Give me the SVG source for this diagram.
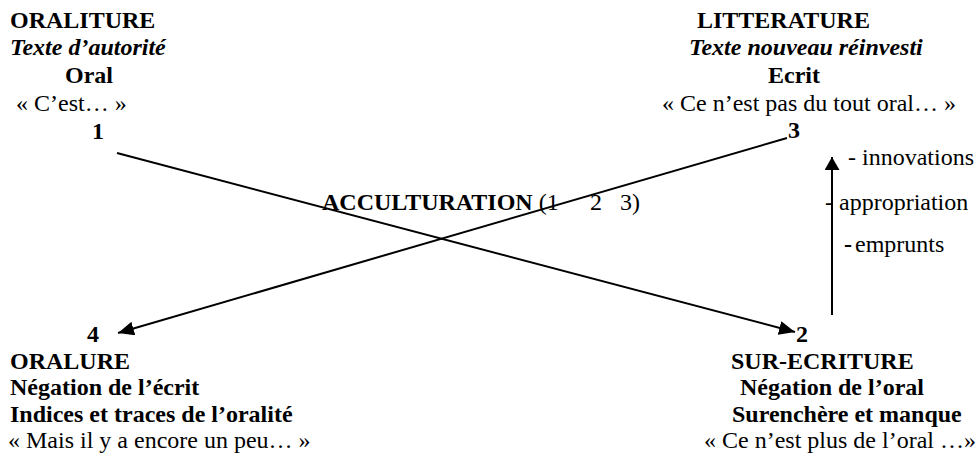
<svg xmlns="http://www.w3.org/2000/svg" width="977" height="457" viewBox="0 0 977 457">
<style>
text{font-family:"Liberation Serif","Times New Roman",serif;font-size:24px;fill:#000}
.b{font-weight:bold}
.bi{font-weight:bold;font-style:italic}
.ln{stroke:#000;stroke-width:2;fill:none}
</style>
<defs>
<marker id="ah" markerUnits="userSpaceOnUse" markerWidth="17" markerHeight="14" refX="16" refY="7" orient="auto">
<path d="M0,0 L16,7 L0,14 z" fill="#000"/>
</marker>
<marker id="ahv" markerUnits="userSpaceOnUse" markerWidth="14" markerHeight="16" refX="13" refY="7.5" orient="auto">
<path d="M0,0 L13,7.5 L0,15 z" fill="#000"/>
</marker>
</defs>
<rect width="977" height="457" fill="#fff"/>
<g id="connectors">
<path class="ln" d="M117,153 L795,332" marker-end="url(#ah)"/>
<path class="ln" d="M787,138 L118,333" marker-end="url(#ah)"/>
<path class="ln" d="M832,315 L832,157" marker-end="url(#ahv)"/>
</g>
<g id="node-oraliture">
<text class="b" x="10" y="28">ORALITURE</text>
<text class="bi" x="10" y="55">Texte d’autorité</text>
<text class="b" x="65" y="83">Oral</text>
<text x="16" y="111">« C’est… »</text>
<text class="b" x="92" y="139">1</text>
</g>
<g id="node-litterature">
<text class="b" x="697" y="28">LITTERATURE</text>
<text class="bi" x="689" y="55">Texte nouveau réinvesti</text>
<text class="b" x="768" y="83">Ecrit</text>
<text x="662" y="111">« Ce n’est pas du tout oral… »</text>
<text class="b" x="788" y="138">3</text>
</g>
<g id="node-acculturation">
<text x="322" y="210"><tspan class="b">ACCULTURATION</tspan> (1<tspan x="590">2</tspan><tspan x="620">3)</tspan></text>
</g>
<g id="node-labels">
<text x="848" y="165">- innovations</text>
<text x="825" y="210">- appropriation</text>
<text x="844" y="252"><tspan class="b">-</tspan><tspan x="855">emprunts</tspan></text>
</g>
<g id="node-oralure">
<text class="b" x="87" y="342">4</text>
<text class="b" x="10" y="369">ORALURE</text>
<text class="b" x="10" y="395">Négation de l’écrit</text>
<text class="b" x="10" y="422">Indices et traces de l’oralité</text>
<text x="8" y="448">« Mais il y a encore un peu… »</text>
</g>
<g id="node-surecriture">
<text class="b" x="796" y="342">2</text>
<text class="b" x="731" y="369">SUR-ECRITURE</text>
<text class="b" x="740" y="395">Négation de l’oral</text>
<text class="b" x="732" y="422">Surenchère et manque</text>
<text x="704" y="448">« Ce n’est plus de l’oral …»</text>
</g>
</svg>
